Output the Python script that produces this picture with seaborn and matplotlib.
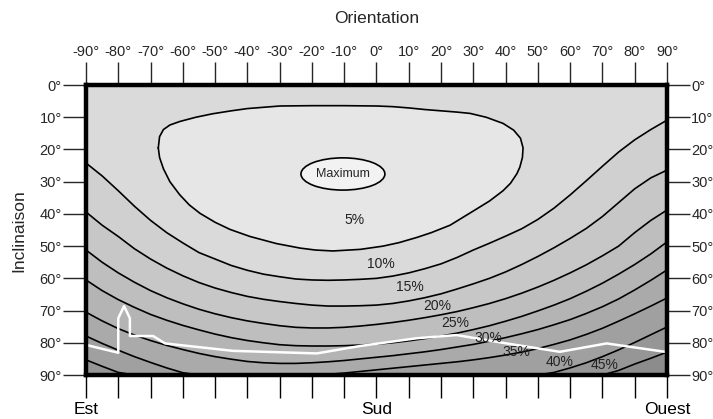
import matplotlib
matplotlib.use('Agg')
import matplotlib.pyplot as plt
from matplotlib.patches import Ellipse
import seaborn as sns
import pandas as pd

# === Data ===
orientation = list(range(-90, 91, 5))
tick_orientation = list(range(-90, 91, 10))

# inclination (deg) of each loss contour at every orientation
tilt_10 = [24.2, 28.2, 32.8, 37.6, 42, 45.8, 49, 52, 54, 56, 57.5, 58.7, 59.5, 60.2, 60.5, 60.6, 60.5, 60.3, 60,
           59.3, 58.3, 57, 55.5, 53.5, 51.2, 49.1, 46.9, 44.6, 41.7, 38.2, 34.1, 29.7, 25.2, 20.8, 17, 13.8, 10.9]
tilt_15 = [39.4, 43.5, 47, 50.8, 54, 56.8, 59.2, 61.3, 63, 64.4, 65.6, 66.5, 67.2, 67.8, 68.3, 68.6, 68.6, 68.5, 68.3,
           67.8, 67, 66, 64.8, 63.3, 61.7, 60, 58, 55.7, 53.2, 50.5, 47.6, 44.5, 40.8, 36.5, 32.2, 28.8, 26.4]
tilt_20 = [51.2, 55, 58.3, 61.2, 63.8, 66, 67.9, 69.6, 71, 72.2, 73.2, 74, 74.7, 75.2, 75.4, 75.4, 75.2, 74.8, 74.3,
           73.7, 73, 72.2, 71.3, 70.3, 69.1, 67.8, 66.3, 64.6, 62.7, 60.6, 58.3, 55.8, 53, 50, 45.8, 42, 38.8]
tilt_25 = [60.5, 63.8, 66.6, 69, 71.2, 73, 74.6, 76, 77.3, 78.4, 79.3, 80, 80.6, 80.9, 81, 81, 80.9, 80.7, 80.4,
           80, 79.4, 78.7, 77.9, 77, 75.9, 74.7, 73.3, 71.8, 70.1, 68.3, 66.3, 64, 61.5, 58.7, 55.7, 52.4, 48.7]
tilt_30 = [70.5, 73.2, 75.6, 77.6, 79.3, 80.8, 82.1, 83.3, 84.3, 85.1, 85.8, 86.2, 86.4, 86.4, 86.2, 85.9, 85.5, 85, 84.5,
           84, 83.4, 82.8, 82.1, 81.3, 80.5, 79.5, 78.4, 77.2, 75.9, 74.4, 72.8, 70.9, 68.8, 66.4, 63.6, 60.6, 57.4]
tilt_35 = [77.9, 80.2, 82.3, 84.3, 86.1, 87.8, 89.3, 90, 90, 90, 90, 90, 90, 90, 90, 89.8, 89.4, 88.9, 88.4,
           87.9, 87.4, 86.9, 86.4, 85.9, 85.3, 84.6, 83.8, 82.9, 81.8, 80.5, 79.1, 77.4, 75.5, 73.3, 71, 68.6, 66.1]
tilt_40 = [85.3, 87.3, 89.2, 90, 90, 90, 90, 90, 90, 90, 90, 90, 90, 90, 90, 90, 90, 90, 90,
           90, 90, 90, 90, 90, 90, 90, 90, 90, 90, 89.2, 87.8, 86.2, 84.3, 82.2, 79.9, 77.5, 75.1]
tilt_45 = [90, 90, 90, 90, 90, 90, 90, 90, 90, 90, 90, 90, 90, 90, 90, 90, 90, 90, 90,
           90, 90, 90, 90, 90, 90, 90, 90, 90, 90, 90, 90, 90, 90, 88.6, 86.6, 84.8, 82.9]
levels = ['10%', '15%', '20%', '25%', '30%', '35%', '40%', '45%']

# closed 5% contour
orient_5 = [-67.6, -67.2, -66, -64, -60.9, -56, -50.7, -45, -40, -35, -29.9, -20, -10, 0, 5, 10, 15, 20, 25, 29,
            34, 39.2, 42.5, 44.6, 45.4, 45.2, 44.4, 43.5, 41.5, 39.2, 35, 29, 22.8, 17, 12.5, 7, 2, -5, -13.5,
            -19, -23.7, -31, -39.2, -45.4, -50, -54.7, -58, -61, -64, -66, -67.2, -67.6]
tilt_5 = [19.5, 16, 13.8, 12.4, 11.3, 10, 8.9, 8, 7.3, 6.9, 6.5, 6.4, 6.4, 6.5, 6.7, 7.1, 7.6, 8, 8.4, 8.8,
          10, 11.9, 14, 16.5, 19.5, 22.5, 25.5, 27.5, 30.5, 32.8, 36, 39.7, 43.5, 45.8, 47.3, 48.9, 50, 51, 51.5,
          51.2, 50.6, 49.2, 47, 44.8, 42.6, 39.8, 37.2, 34, 30, 26, 22.5, 19.5]

# optimum
max_orient, max_tilt = -10.4, 27.6

# horizon (white line)
horizon_orient = [-89.8, -80.0, -80.0, -78.2, -76.4, -76.4, -69.2, -65.5, -44.5, -18.5, -5.1,
                  12.4, 24.8, 40.3, 56.8, 71.3, 89.4]
horizon_tilt = [80.7, 83.1, 72.4, 68.6, 72.4, 77.9, 77.9, 80.2, 82.5, 83.3, 81.0,
                78.6, 77.6, 80.2, 82.8, 80.2, 82.8]

# label positions (orientation, tilt)
label_text = ['5%', '10%', '15%', '20%', '25%', '30%', '35%', '40%', '45%']
label_orient = [-6.7, 1.4, 10.4, 18.7, 24.3, 34.5, 43.2, 56.8, 70.8]
label_tilt = [41.9, 55.6, 62.7, 68.6, 73.9, 78.5, 82.9, 86.0, 86.9]

top_labels = [f'{v}°' for v in tick_orientation]
bottom_labels = ['Est'] + [''] * 8 + ['Sud'] + [''] * 8 + ['Ouest']
tilt_ticks = [0, 10, 20, 30, 40, 50, 60, 70, 80, 90]
tilt_labels = [f'{v}°' for v in tilt_ticks]

# === Style ===
sns.set_style('white')
plt.rcParams['font.family'] = ['Liberation Sans', 'DejaVu Sans']

band_colors = ['#dadada', '#d0d0d0', '#c7c7c7', '#bebebe', '#b4b4b4',
               '#aaaaaa', '#a0a0a0', '#969696', '#8c8c8c']

fig = plt.figure(figsize=(7.13, 4.19), dpi=100)
ax = fig.add_axes([0.1206, 0.105, 0.8149, 0.692])

curves = [tilt_10, tilt_15, tilt_20, tilt_25, tilt_30, tilt_35, tilt_40, tilt_45]
bounds = [[0] * len(orientation)] + curves + [[90] * len(orientation)]
for i, col in enumerate(band_colors):
    ax.fill_between(orientation, bounds[i], bounds[i + 1], color=col, lw=0)

df = pd.DataFrame({
    'orientation': orientation * len(curves),
    'tilt': [t for c in curves for t in c],
    'level': [lv for lv in levels for _ in orientation],
})
sns.lineplot(data=df, x='orientation', y='tilt', units='level', estimator=None,
             color='black', lw=1.2, ax=ax)

# 5% closed contour
ax.fill(orient_5, tilt_5, color='#e6e6e6', lw=0)
sns.lineplot(x=orient_5, y=tilt_5, sort=False, estimator=None, color='black', lw=1.2, ax=ax)

# maximum
ax.add_patch(Ellipse((max_orient, max_tilt), 26, 10, fc='#f2f2f2', ec='black', lw=1.2))
ax.text(max_orient, max_tilt, 'Maximum', ha='center', va='center', fontsize=9)

# horizon
sns.lineplot(x=horizon_orient, y=horizon_tilt, sort=False, estimator=None,
             color='white', lw=1.8, ax=ax)

for txt, xo, yt in zip(label_text, label_orient, label_tilt):
    ax.text(xo, yt, txt, ha='center', va='center', fontsize=10, color='#222222')

ax.set_xlim(-90, 90)
ax.set_ylim(90, 0)
ax.set_xlabel('')
ax.set_ylabel('')

for s in ax.spines.values():
    s.set_visible(True)
    s.set_linewidth(3.2)
    s.set_color('black')

ax.set_xticks(tick_orientation)
ax.set_xticklabels(bottom_labels, fontsize=12.5)
ax.set_yticks(tilt_ticks)
ax.set_yticklabels(tilt_labels)
ax.tick_params(axis='x', bottom=True, direction='out', length=16.5, width=1, pad=3, colors='black')
ax.tick_params(axis='y', left=True, right=True, labelleft=True, labelright=True,
               direction='out', length=16.5, width=1, pad=1, labelsize=10.5)

sec = ax.secondary_xaxis('top')
sec.set_xticks(tick_orientation)
sec.set_xticklabels(top_labels)
sec.tick_params(top=True, direction='out', length=16.5, width=1, pad=2, labelsize=10.5)
sec.spines['top'].set_visible(False)

fig.text(0.528, 0.957, 'Orientation', ha='center', va='center', fontsize=12.5)
fig.text(0.027, 0.45, 'Inclinaison', ha='center', va='center', rotation=90, fontsize=12.5)

fig.savefig('out.png', dpi=100)
